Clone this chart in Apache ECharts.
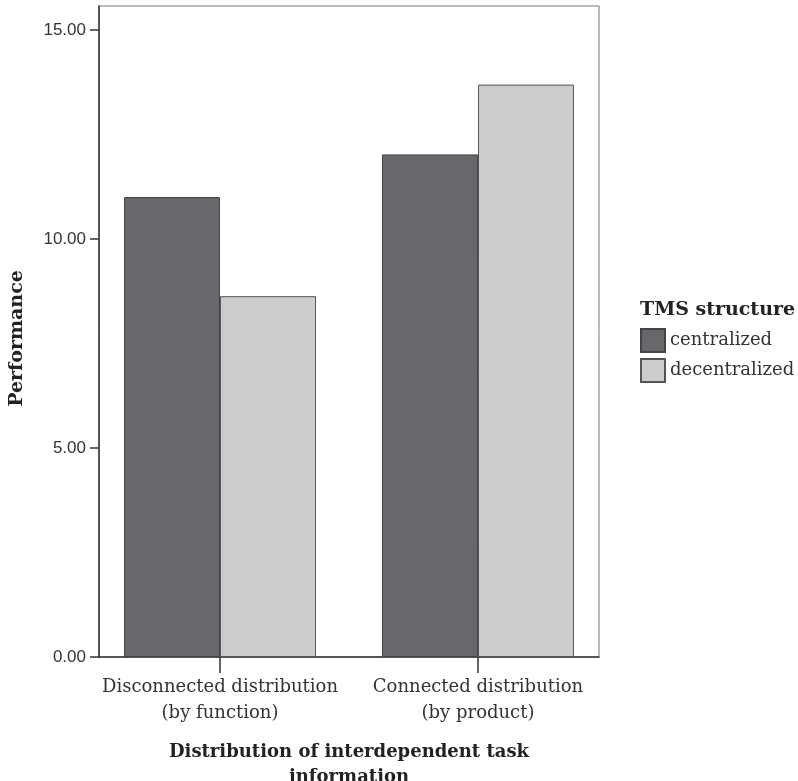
<!DOCTYPE html>
<html>
<head>
<meta charset="utf-8">
<script src="https://cdn.jsdelivr.net/npm/echarts@6/dist/echarts.min.js"></script>
<style>html,body{margin:0;padding:0;background:#fff;overflow:hidden}#c{width:798px;height:781px}</style>
</head>
<body>
<div id="c"></div>
<script>
const categories = ['Disconnected distribution\n(by function)', 'Connected distribution\n(by product)'];
const categoryPositions = [1, 2];
const seriesNames = ['centralized', 'decentralized'];
const centralized = [11.0, 12.02];
const decentralized = [8.63, 13.69];
const yMax = 15.57;
const yInterval = 5;

const chart = echarts.init(document.getElementById('c'), null, {renderer: 'canvas', width: 798, height: 781});
const serif = 'DejaVu Serif';
function pairs(vals) { return vals.map((v, i) => [categoryPositions[i], v]); }

chart.setOption({
  animation: false,
  backgroundColor: '#fff',
  grid: {left: 99, top: 6, width: 500, height: 651, outerBoundsMode: 'none', containLabel: false,
         show: true, borderColor: '#777', borderWidth: 1, backgroundColor: 'transparent'},
  graphic: [{
    type: 'text', left: 640, top: 301,
    style: {text: 'TMS structure', font: 'bold 19px "DejaVu Serif"', fill: '#222'}
  }],
  legend: {
    data: seriesNames, orient: 'vertical', left: 640, top: 328, padding: 0,
    itemWidth: 24, itemHeight: 23, itemGap: 5,
    icon: 'rect',
    textStyle: {fontFamily: serif, fontSize: 18, color: '#333', padding: [3, 0, 0, 0]}
  },
  xAxis: {
    type: 'value', min: 0.531, max: 2.469,
    name: 'Distribution of interdependent task\ninformation',
    nameLocation: 'middle', nameGap: 83,
    nameTextStyle: {fontFamily: serif, fontWeight: 'bold', fontSize: 18, color: '#222', lineHeight: 25},
    axisLine: {show: true, lineStyle: {color: '#333', width: 1.5}},
    axisTick: {show: true, customValues: categoryPositions, length: 16, lineStyle: {color: '#333', width: 1.5}},
    axisLabel: {
      customValues: categoryPositions, margin: 17,
      formatter: v => categories[categoryPositions.indexOf(Math.round(v))] || '',
      fontFamily: serif, fontSize: 18, color: '#333', lineHeight: 26
    },
    splitLine: {show: false}
  },
  yAxis: {
    type: 'value', min: 0, max: yMax, interval: yInterval,
    name: 'Performance', nameLocation: 'middle', nameGap: 72,
    nameTextStyle: {fontFamily: serif, fontWeight: 'bold', fontSize: 19, color: '#222', padding: [0, 14, 0, 0]},
    axisLine: {show: true, lineStyle: {color: '#333', width: 1.5}},
    axisTick: {show: true, length: 9, lineStyle: {color: '#333', width: 1.5}},
    axisLabel: {fontFamily: 'Liberation Sans', fontSize: 17, color: '#333', margin: 13, showMaxLabel: false, formatter: v => v.toFixed(2)},
    splitLine: {show: false}
  },
  series: [
    {name: seriesNames[0], type: 'bar', data: pairs(centralized), barWidth: 96, barGap: '0%',
     itemStyle: {color: '#67686c', borderColor: '#444', borderWidth: 1}},
    {name: seriesNames[1], type: 'bar', data: pairs(decentralized), barWidth: 96, barGap: '0%',
     itemStyle: {color: '#cbccce', borderColor: '#555', borderWidth: 1}}
  ]
});
</script>
</body>
</html>
